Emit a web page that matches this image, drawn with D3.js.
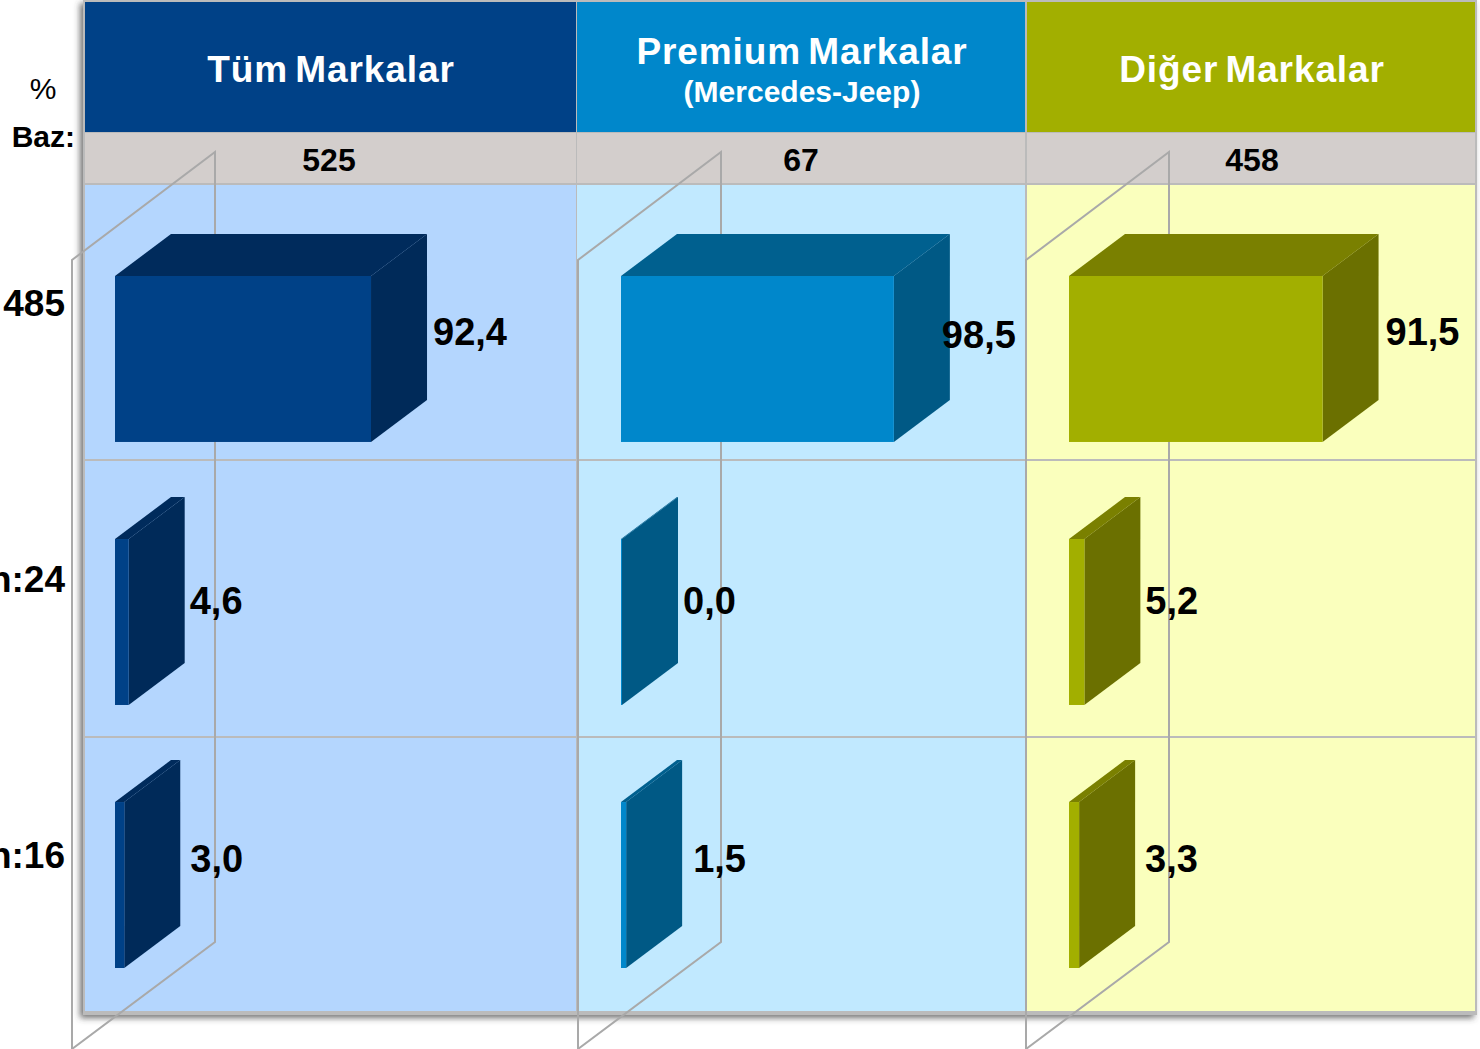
<!DOCTYPE html>
<html>
<head>
<meta charset="utf-8">
<style>
  html, body { margin: 0; padding: 0; background: #fff; overflow: hidden; }
  text { font-family: "Liberation Sans", Arial, sans-serif; }
</style>
<script src="https://d3js.org/d3.v7.min.js"></script>
</head>
<body>
<div id="chart"></div>
<script>
// data
const panels = ["Tüm Markalar", "Premium Markalar", "Diğer Markalar"];
const subtitles = ["", "(Mercedes-Jeep)", ""];
const bases = ["525", "67", "458"];
const rowLabels = ["485", "n:24", "n:16"];
const tumValues = [92.4, 4.6, 3.0];
const premiumValues = [98.5, 0.0, 1.5];
const digerValues = [91.5, 5.2, 3.3];
const allValues = [tumValues, premiumValues, digerValues];

// panel colours: header/front, cell, top, side
const headerColors = ["#004187", "#0087cb", "#a2af00"];
const cellColors = ["#b4d6fe", "#c1e9ff", "#faffbd"];
const topColors = ["#002b5c", "#00608f", "#7a8000"];
const sideColors = ["#002a59", "#005985", "#6b7000"];

const width = 1480, height = 1049;
const depthX = 56, depthY = -42;

// layout of the table
const panelX = d3.scaleOrdinal(panels, [85, 577, 1027]);
const panelRight = d3.scaleOrdinal(panels, [576, 1025, 1475]);
const barStart = d3.scaleOrdinal(panels, [115, 621, 1069]);
const wallX = d3.scaleOrdinal(panels, [72, 578, 1026]);
const rowEdge = d3.scaleOrdinal(rowLabels, [184, 460, 737]);
const rowEnd = d3.scaleOrdinal(rowLabels, [460, 737, 1012]);

// zero still has a sliver of width in the original
const x = d3.scaleLinear().domain([0, 100]).range([1, 277]);
const y = d3.scaleBand().domain(rowLabels).range([276, 968]).paddingInner(0.369).paddingOuter(0);

// small hand nudges for value labels
const labelDx = [[6, -8, 7], [5, 5, 5], [10, 11, 10]];
const labelDy = [[331, 334, 331], [600, 600, 600], [858, 858, 858]];
const rowLabelY = [303, 579, 855];

const fmt = v => v.toFixed(1).replace(".", ",");

const svg = d3.select("#chart").append("svg")
    .attr("width", width)
    .attr("height", height)
    .style("display", "block");

const defs = svg.append("defs");
const shadow = defs.append("filter").attr("id", "shadow")
    .attr("x", "-5%").attr("y", "-5%").attr("width", "110%").attr("height", "110%");
shadow.append("feDropShadow")
    .attr("dx", -3).attr("dy", 3).attr("stdDeviation", 3)
    .attr("flood-color", "#444").attr("flood-opacity", 0.75);

// table background with the soft shadow
svg.append("rect")
    .attr("x", 83).attr("y", 0).attr("width", 1394).attr("height", 1015)
    .attr("fill", "#bbb")
    .attr("filter", "url(#shadow)");

const panel = svg.selectAll("g.panel")
  .data(panels)
  .join("g")
    .attr("class", "panel");

// header, base and body cells
panel.append("rect")
    .attr("x", d => panelX(d))
    .attr("y", 2)
    .attr("width", d => panelRight(d) - panelX(d))
    .attr("height", 130)
    .attr("fill", (d, i) => headerColors[i]);

panel.append("rect")
    .attr("x", d => panelX(d))
    .attr("y", 133)
    .attr("width", d => panelRight(d) - panelX(d))
    .attr("height", 50)
    .attr("fill", "#d3cecc");

rowLabels.forEach(r => {
  panel.append("rect")
      .attr("x", d => panelX(d))
      .attr("y", rowEdge(r) + 1)
      .attr("width", d => panelRight(d) - panelX(d))
      .attr("height", rowEnd(r) - rowEdge(r) - 2)
      .attr("fill", (d, i) => cellColors[i]);
});

// back wall of each 3d plot
panel.append("path")
    .attr("d", d => {
      const l = wallX(d), r = l + 143;
      return `M${l},1049 V260 L${r},152 V942 L${l},1049`;
    })
    .attr("fill", "none")
    .attr("stroke", "#a9a9a9")
    .attr("stroke-width", 2);

// the boxes
panels.forEach((p, pi) => {
  const g = svg.append("g");
  const x0 = barStart(p);
  const rows = rowLabels.map((r, ri) => ({r, ri, v: allValues[pi][ri]}));
  const face = g.selectAll("g").data(rows).join("g");

  face.append("path")
      .attr("fill", topColors[pi])
      .attr("d", d => {
        const w = x(d.v), t = y(d.r);
        return `M${x0},${t} l${depthX},${depthY} h${w} l${-depthX},${-depthY} Z`;
      });
  face.append("path")
      .attr("fill", sideColors[pi])
      .attr("d", d => {
        const w = x(d.v), t = y(d.r), h = y.bandwidth();
        return `M${x0 + w},${t} l${depthX},${depthY} v${h} l${-depthX},${-depthY} Z`;
      });
  face.append("rect")
      .attr("x", x0)
      .attr("y", d => y(d.r))
      .attr("width", d => x(d.v))
      .attr("height", y.bandwidth())
      .attr("fill", headerColors[pi]);

  face.append("text")
      .attr("x", d => x0 + x(d.v) + depthX + labelDx[d.ri][pi])
      .attr("y", d => labelDy[d.ri][pi])
      .attr("dy", "0.36em")
      .attr("font-size", 38)
      .attr("font-weight", "bold")
      .attr("fill", "#000")
      .text(d => fmt(d.v));
});

// header titles
const titleX = d3.scaleOrdinal(panels, [331, 802, 1252]);
const titleY = d3.scaleOrdinal(panels, [69, 51, 69]);
const baseX = d3.scaleOrdinal(panels, [329, 801, 1252]);

panel.append("text")
    .attr("x", d => titleX(d))
    .attr("y", d => titleY(d))
    .attr("dy", "0.36em")
    .attr("text-anchor", "middle")
    .attr("font-size", 37)
    .attr("font-weight", "bold")
    .attr("fill", "#fff")
    .attr("letter-spacing", 0.9)
    .attr("word-spacing", -4)
    .text(d => d);

panel.append("text")
    .attr("x", d => titleX(d))
    .attr("y", 91)
    .attr("dy", "0.36em")
    .attr("text-anchor", "middle")
    .attr("font-size", 30)
    .attr("font-weight", "bold")
    .attr("fill", "#fff")
    .text((d, i) => subtitles[i]);

panel.append("text")
    .attr("x", d => baseX(d))
    .attr("y", 159.5)
    .attr("dy", "0.36em")
    .attr("text-anchor", "middle")
    .attr("font-size", 32)
    .attr("font-weight", "bold")
    .attr("fill", "#000")
    .text((d, i) => bases[i]);

// left hand labels
svg.append("text")
    .attr("x", 43).attr("y", 88).attr("dy", "0.36em")
    .attr("text-anchor", "middle")
    .attr("font-size", 30)
    .text("%");

svg.append("text")
    .attr("x", 75).attr("y", 136).attr("dy", "0.36em")
    .attr("text-anchor", "end")
    .attr("font-size", 30)
    .attr("font-weight", "bold")
    .text("Baz:");

svg.selectAll("text.row")
  .data(rowLabels)
  .join("text")
    .attr("class", "row")
    .attr("x", 65)
    .attr("y", (d, i) => rowLabelY[i])
    .attr("dy", "0.36em")
    .attr("text-anchor", "end")
    .attr("font-size", 37)
    .attr("font-weight", "bold")
    .text(d => d);
</script>
</body>
</html>
